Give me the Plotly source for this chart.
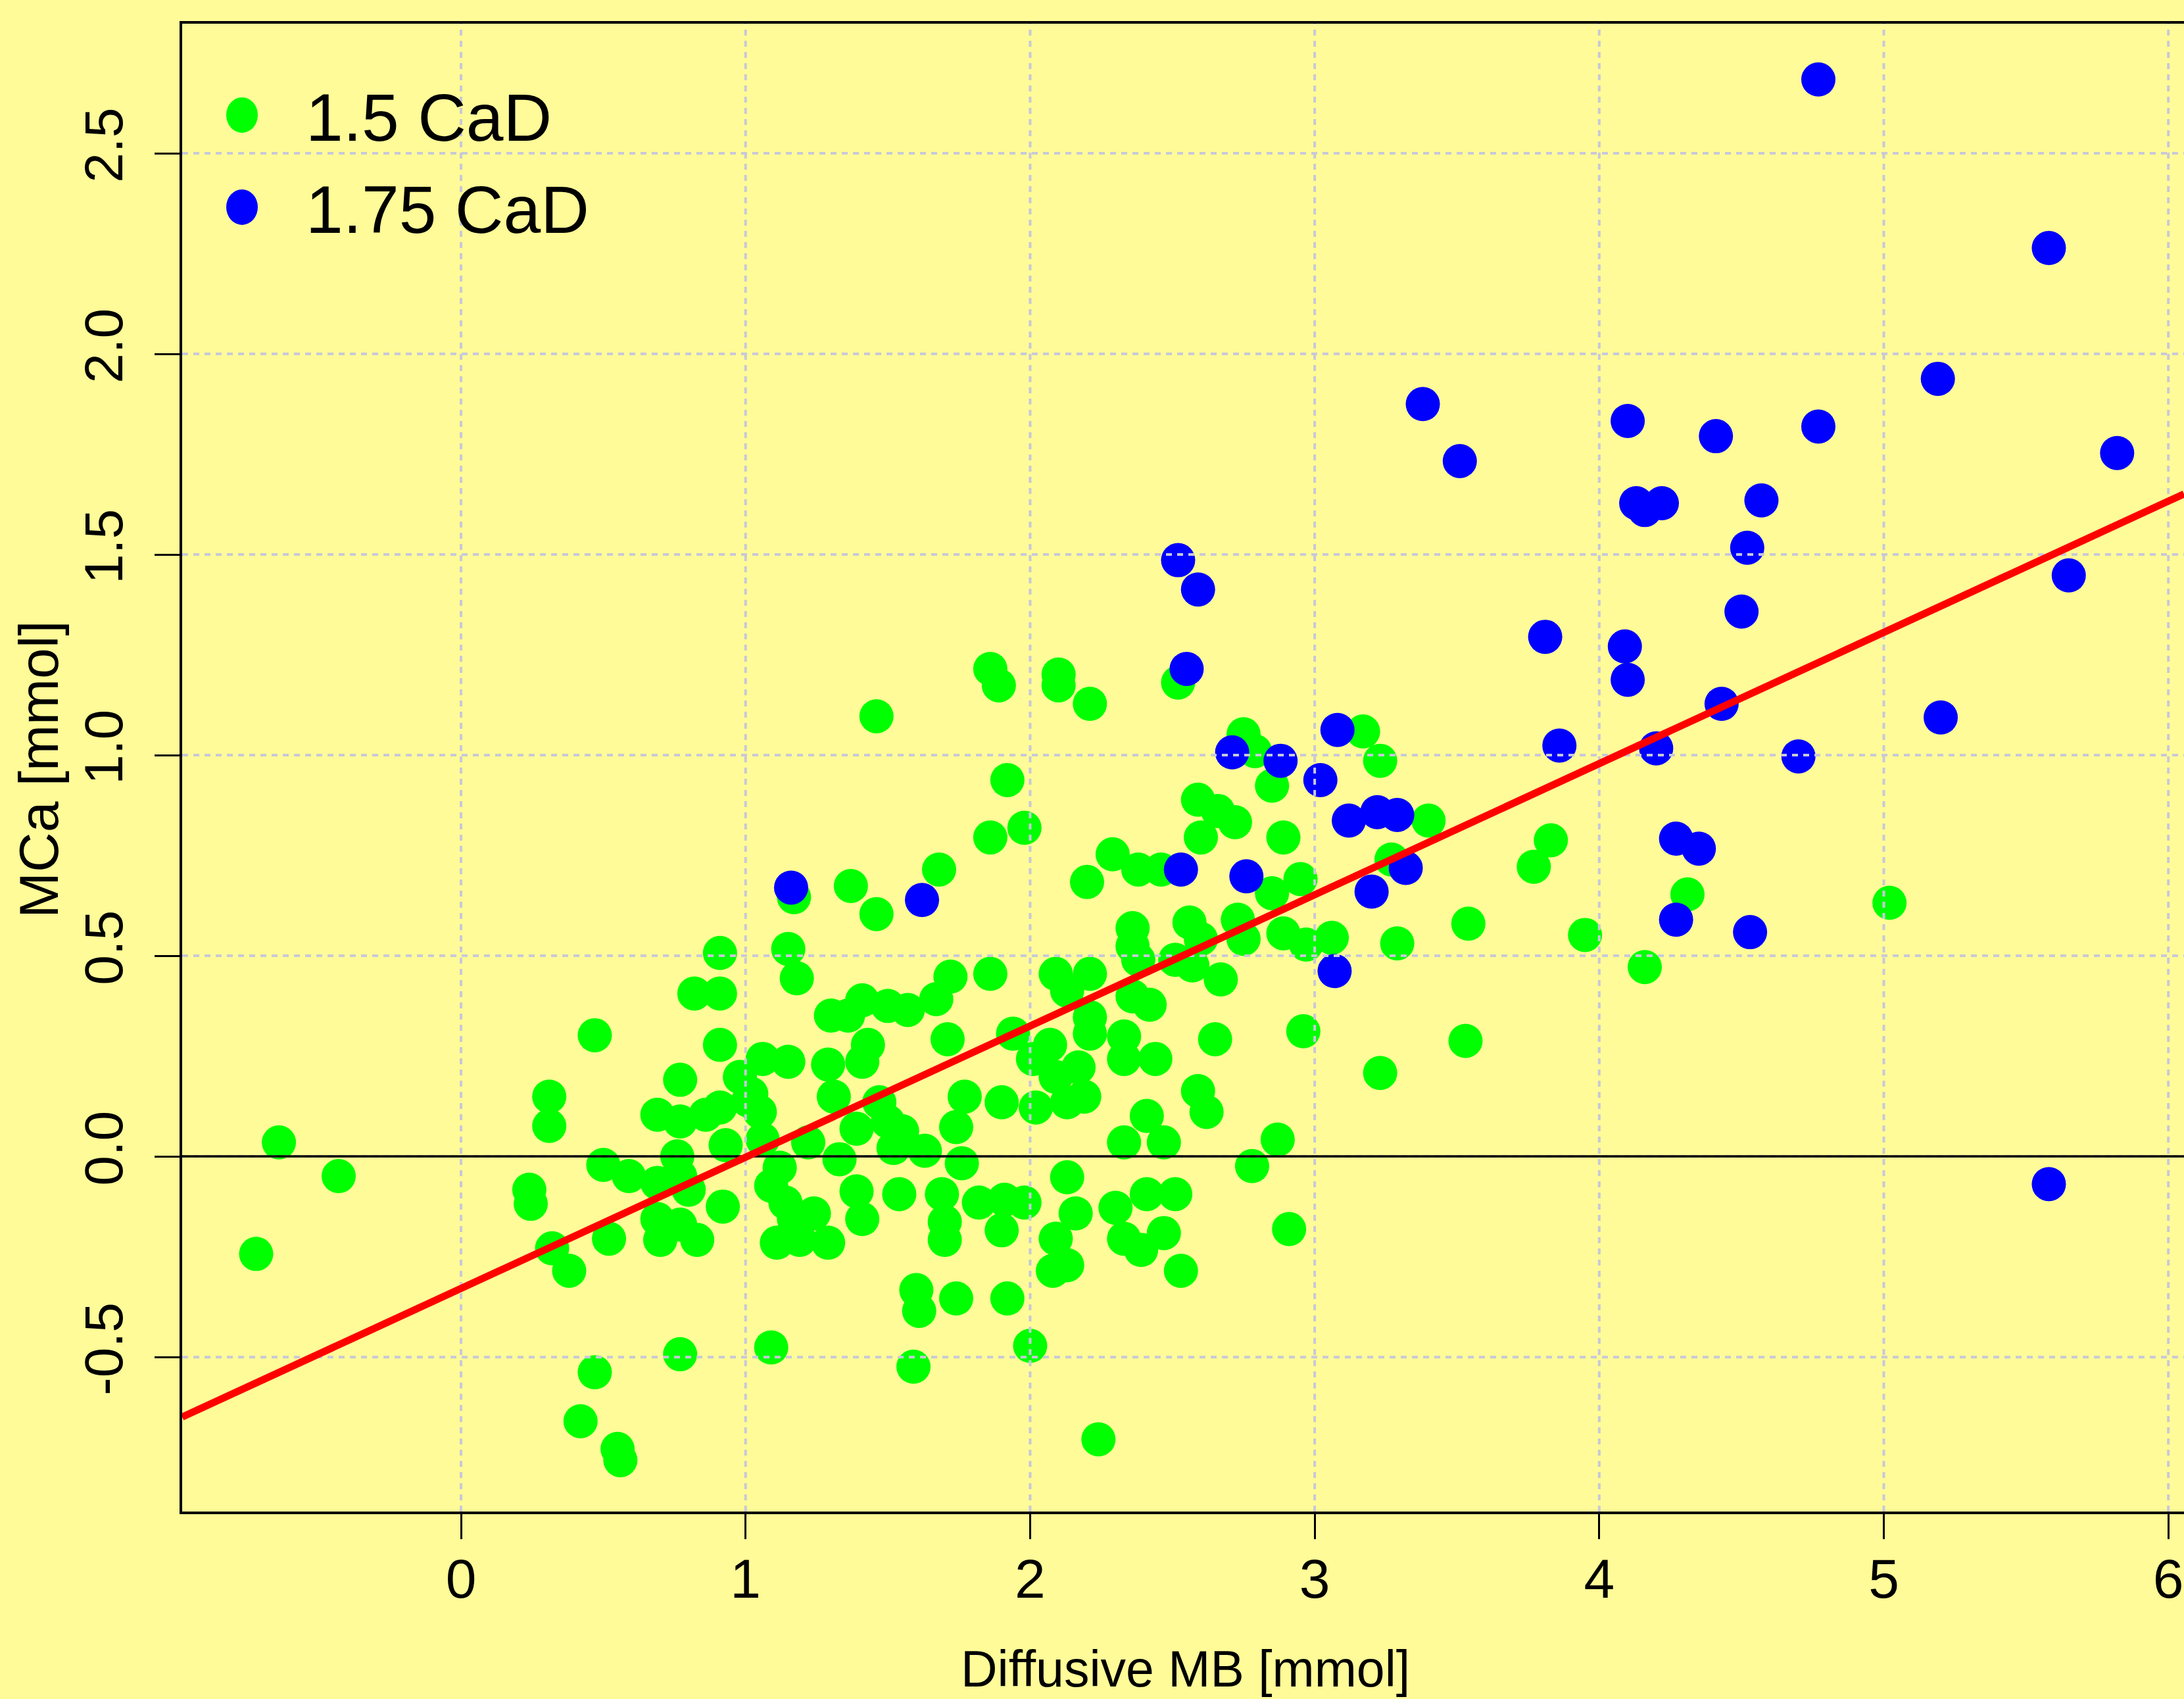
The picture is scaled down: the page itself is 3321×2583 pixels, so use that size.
import plotly.graph_objects as go

# ---------------- data ----------------
series_names = ["1.5 CaD", "1.75 CaD"]

green_x = [-0.64, -0.43, -0.72, 0.24, 0.245, 0.31, 0.31, 0.32, 0.38, 0.52,
           0.47, 0.50, 0.59, 0.47, 0.42, 0.55, 0.56, 0.69, 0.77, 0.86,
           0.91, 0.77, 0.76, 0.77, 0.69, 0.80, 0.92, 0.69, 0.70, 0.77,
           0.83, 0.93, 0.82, 0.91, 0.91, 0.91, 0.98, 0.77, 1.05, 1.06,
           1.12, 1.09, 1.14, 1.17, 1.24, 1.11, 1.19, 1.29, 1.22, 1.33,
           1.39, 1.41, 1.52, 1.54, 1.39, 1.50, 1.47, 1.31, 1.55, 1.06,
           1.15, 1.29, 1.41, 1.43, 1.36, 1.30, 1.41, 1.50, 1.57, 1.15,
           1.18, 1.17, 1.37, 1.46, 1.46, 1.09, 1.60, 1.61, 1.59, 1.77,
           1.90, 2.02, 2.13, 2.19, 2.59, 2.62, 2.41, 2.33, 2.47, 2.87,
           2.78, 1.74, 1.76, 1.63, 2.13, 2.16, 1.69, 1.82, 1.91, 1.98,
           1.70, 1.70, 1.90, 2.09, 2.08, 2.13, 2.30, 2.41, 2.51, 2.33,
           2.39, 2.47, 2.53, 2.91, 1.74, 1.92, 2.00, 2.24, 1.86, 1.89,
           2.10, 2.10, 2.21, 2.52, 2.75, 2.79, 2.85, 1.92, 1.86, 1.98,
           1.68, 2.20, 2.29, 2.38, 2.46, 2.59, 2.66, 2.72, 2.60, 2.89,
           2.85, 2.95, 2.56, 2.60, 2.73, 2.75, 2.89, 2.97, 3.06, 2.36,
           2.36, 2.38, 2.51, 2.57, 2.67, 2.36, 2.42, 2.09, 2.21, 2.13,
           1.86, 1.72, 1.67, 1.71, 1.94, 2.21, 2.21, 2.07, 2.01, 2.33,
           2.33, 2.44, 2.65, 2.96, 2.17, 2.09, 3.17, 3.23, 3.40, 3.27,
           3.29, 3.83, 3.77, 4.31, 3.54, 3.95, 4.16, 3.53, 5.02, 3.23,
           1.02, 1.01]
green_y = [0.035, -0.049, -0.243, -0.083, -0.118, 0.149, 0.076, -0.229, -0.285, -0.205,
           0.302, -0.021, -0.049, -0.538, -0.660, -0.729, -0.757, 0.104, 0.087, 0.104,
           0.122, 0.191, 0.0, -0.049, -0.066, -0.083, -0.125, -0.156, -0.208, -0.170,
           -0.208, 0.028, 0.406, 0.406, 0.507, 0.278, 0.198, -0.493, 0.111, 0.042,
           -0.028, -0.073, -0.115, -0.156, -0.142, -0.215, -0.208, -0.215, 0.035, -0.007,
           -0.087, -0.156, 0.021, -0.094, 0.069, 0.087, 0.135, 0.149, 0.063, 0.243,
           0.236, 0.229, 0.236, 0.278, 0.351, 0.351, 0.389, 0.375, 0.365, 0.517,
           0.444, 0.646, 0.674, 0.604, 1.097, -0.476, -0.333, -0.385, -0.524, 0.149,
           0.135, 0.122, 0.135, 0.149, 0.163, 0.111, 0.101, 0.035, 0.035, 0.042,
           -0.024, 0.073, -0.017, 0.014, -0.052, -0.142, -0.094, -0.115, -0.108, -0.115,
           -0.163, -0.208, -0.184, -0.205, -0.285, -0.271, -0.128, -0.094, -0.094, -0.205,
           -0.233, -0.191, -0.285, -0.181, -0.354, -0.354, -0.472, -0.705, 1.215, 1.174,
           1.201, 1.174, 1.128, 1.181, 1.052, 1.010, 0.924, 0.938, 0.795, 0.819,
           0.715, 0.684, 0.753, 0.715, 0.715, 0.889, 0.861, 0.833, 0.795, 0.795,
           0.656, 0.691, 0.583, 0.542, 0.590, 0.542, 0.556, 0.528, 0.545, 0.569,
           0.524, 0.490, 0.490, 0.476, 0.441, 0.399, 0.378, 0.455, 0.455, 0.413,
           0.455, 0.448, 0.392, 0.292, 0.306, 0.347, 0.306, 0.278, 0.243, 0.299,
           0.243, 0.243, 0.292, 0.312, 0.222, 0.198, 1.059, 0.986, 0.837, 0.740,
           0.531, 0.788, 0.722, 0.653, 0.580, 0.552, 0.472, 0.288, 0.632, 0.208,
           0.156, 0.139]

blue_x = [4.77, 5.58, 5.19, 3.38, 4.10, 4.77, 4.41, 5.82, 3.51, 4.13,
          4.16, 4.22, 4.57, 4.52, 4.50, 5.65, 3.81, 4.09, 4.10, 4.43,
          5.20, 3.86, 4.20, 4.70, 4.27, 4.35, 4.27, 4.53, 5.58, 2.52,
          2.59, 2.55, 2.71, 2.88, 3.02, 3.08, 3.12, 3.22, 3.29, 3.32,
          3.20, 3.07, 2.53, 2.76, 1.62, 1.16]
blue_y = [2.684, 2.264, 1.938, 1.875, 1.833, 1.819, 1.795, 1.753, 1.733, 1.628,
          1.611, 1.628, 1.635, 1.517, 1.358, 1.448, 1.295, 1.271, 1.188, 1.128,
          1.094, 1.024, 1.017, 0.997, 0.792, 0.767, 0.590, 0.559, -0.069, 1.486,
          1.413, 1.215, 1.007, 0.986, 0.938, 1.063, 0.837, 0.858, 0.851, 0.719,
          0.660, 0.462, 0.715, 0.698, 0.639, 0.670]

fit_intercept = -0.329
fit_slope = 0.327

x_ticks = [0, 1, 2, 3, 4, 5, 6]
x_tick_labels = ["0", "1", "2", "3", "4", "5", "6"]
y_ticks = [-0.5, 0.0, 0.5, 1.0, 1.5, 2.0, 2.5]
y_tick_labels = ["-0.5", "0.0", "0.5", "1.0", "1.5", "2.0", "2.5"]

x_title = "Diffusive MB [mmol]"
y_title = "MCa [mmol]"

# ---------------- style ----------------
BG = "#FFFB98"
GREEN = "#00FF00"
BLUE = "#0000FF"
RED = "#FF0000"
GRID = "#C8C8D8"
FONT = "Liberation Sans, Arial, sans-serif"
X_RANGE = [-0.98, 6.055]
Y_RANGE = [-0.885, 2.823]
MSIZE = 52

fig = go.Figure()
fig.add_trace(go.Scatter(x=green_x, y=green_y, mode="markers", name=series_names[0],
                         marker=dict(color=GREEN, size=MSIZE, line=dict(width=0)),
                         showlegend=False))
fig.add_trace(go.Scatter(x=blue_x, y=blue_y, mode="markers", name=series_names[1],
                         marker=dict(color=BLUE, size=MSIZE, line=dict(width=0)),
                         showlegend=False))

shapes = []
grid_line = dict(color=GRID, width=4, dash="9px,8px")
for xv in x_ticks:
    shapes.append(dict(type="line", xref="x", yref="paper", x0=xv, x1=xv, y0=0, y1=1,
                       line=grid_line, layer="above"))
for yv in y_ticks:
    shapes.append(dict(type="line", xref="paper", yref="y", x0=0, x1=1, y0=yv, y1=yv,
                       line=grid_line, layer="above"))
# zero line
shapes.append(dict(type="line", xref="paper", yref="y", x0=0, x1=1, y0=0, y1=0,
                   line=dict(color="black", width=3.5), layer="above"))
# regression line (abline)
shapes.append(dict(type="line", xref="x", yref="y",
                   x0=X_RANGE[0], x1=X_RANGE[1],
                   y0=fit_intercept + fit_slope * X_RANGE[0],
                   y1=fit_intercept + fit_slope * X_RANGE[1],
                   line=dict(color=RED, width=11), layer="above"))

# manual legend
legend_colors = [GREEN, BLUE]
legend_y = [0.9386, 0.8767]
annotations = []
for name, col, ly in zip(series_names, legend_colors, legend_y):
    shapes.append(dict(type="circle", xref="paper", yref="paper",
                       xsizemode="pixel", ysizemode="pixel",
                       xanchor=0.0299, yanchor=ly, x0=-24, x1=24, y0=-27, y1=27,
                       fillcolor=col, line=dict(width=0), layer="above"))
    annotations.append(dict(xref="paper", yref="paper", x=0.061, y=ly - 0.002,
                            xanchor="left", yanchor="middle", showarrow=False,
                            text=name, font=dict(family=FONT, size=102, color="black")))

annotations.append(dict(xref="paper", yref="paper", x=0.5013, y=-0.1057,
                        xanchor="center", yanchor="middle", showarrow=False,
                        text=x_title, font=dict(family=FONT, size=77, color="black")))
annotations.append(dict(xref="paper", yref="paper", x=-0.0716, y=0.4987,
                        xanchor="center", yanchor="middle", showarrow=False, textangle=-90,
                        text=y_title, font=dict(family=FONT, size=84, color="black")))

fig.update_layout(
    width=3321, height=2583,
    margin=dict(l=277, r=0, t=36, b=285, pad=0),
    paper_bgcolor=BG, plot_bgcolor=BG,
    shapes=shapes, annotations=annotations,
    showlegend=False,
    font=dict(family=FONT, color="black"),
)
fig.update_xaxes(range=X_RANGE, showgrid=False, zeroline=False,
                 tickmode="array", tickvals=x_ticks, ticktext=x_tick_labels,
                 ticks="outside", ticklen=38, tickwidth=3, tickcolor="black",
                 tickfont=dict(family=FONT, size=84, color="black"),
                 showline=True, linecolor="black", linewidth=4, mirror=True,
                 ticklabelstandoff=-12)
fig.update_yaxes(range=Y_RANGE, showgrid=False, zeroline=False,
                 tickmode="array", tickvals=y_ticks, ticktext=y_tick_labels,
                 ticks="outside", ticklen=38, tickwidth=3, tickcolor="black",
                 tickangle=-90,
                 tickfont=dict(family=FONT, size=82, color="black"),
                 showline=True, linecolor="black", linewidth=4, mirror=False,
                 ticklabelstandoff=16)

fig.write_html(
    "out.html",
    config={"displayModeBar": False},
    post_script="document.body.style.margin='0';document.body.style.padding='0';"
                "document.body.style.background='" + BG + "';"
                "document.documentElement.style.background='" + BG + "';"
                "document.body.style.overflow='hidden';",
)
